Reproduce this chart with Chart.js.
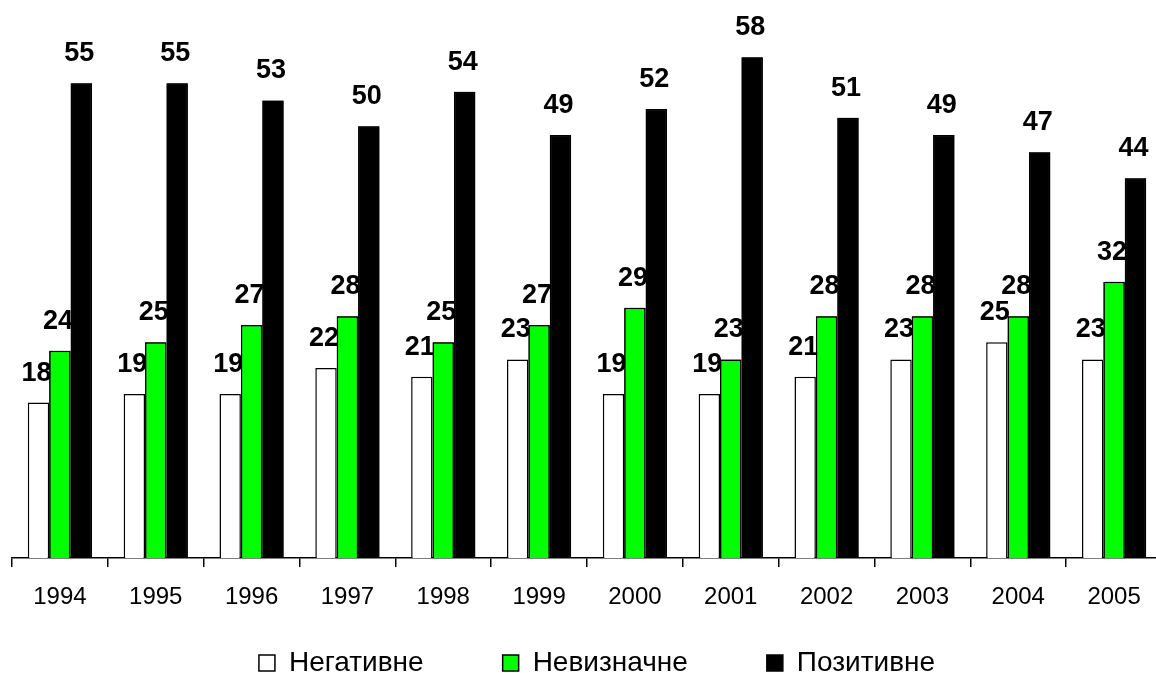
<!DOCTYPE html>
<html lang="uk">
<head>
<meta charset="UTF-8">
<title>1994-2005</title>
<script src="https://cdn.jsdelivr.net/npm/chart.js"></script>
<style>
    html, body {
        margin: 0;
        padding: 0;
        background: #fff;
        overflow: hidden;
    }
    #wrap {
        width: 1164px;
        height: 673px;
    }
</style>
</head>
<body>
<div id="wrap"><canvas id="chart" width="1164" height="673"></canvas></div>
<script>
const years = ['1994', '1995', '1996', '1997', '1998', '1999', '2000', '2001', '2002', '2003', '2004', '2005'];
const negative = [18, 19, 19, 22, 21, 23, 19, 19, 21, 23, 25, 23];
const uncertain = [24, 25, 27, 28, 25, 27, 29, 23, 28, 28, 28, 32];
const positive = [55, 55, 53, 50, 54, 49, 52, 58, 51, 49, 47, 44];

const FONT = "'Liberation Sans', Arial, sans-serif";

// labels above bars; each later series is redrawn so it covers the previous labels
const barLabels = {
    id: 'barLabels',
    afterDatasetsDraw(chart) {
        const ctx = chart.ctx;
        chart.data.datasets.forEach((ds, i) => {
            const meta = chart.getDatasetMeta(i);
            if (i > 0) {
                meta.data.forEach(el => el.draw(ctx));
            }
            ctx.save();
            ctx.font = 'bold 27px ' + FONT;
            ctx.fillStyle = '#000';
            ctx.textAlign = 'center';
            ctx.textBaseline = 'alphabetic';
            meta.data.forEach((el, j) => {
                ctx.fillText(ds.data[j], el.x - 2, el.y - 22);
            });
            ctx.restore();
        });
    }
};

// legend needs wide gaps between items but must sit close under the axis
const legendSpot = {
    id: 'legendSpot',
    afterLayout(chart) {
        chart.legend.top = 570;
        chart.legend.left += 20;
    }
};

new Chart(document.getElementById('chart'), {
    type: 'bar',
    data: {
        labels: years,
        datasets: [
            {
                label: 'Негативне',
                data: negative,
                backgroundColor: '#ffffff',
                borderColor: '#000000',
                borderWidth: 1.5
            },
            {
                label: 'Невизначне',
                data: uncertain,
                backgroundColor: '#00ff00',
                borderColor: '#000000',
                borderWidth: 1.5
            },
            {
                label: 'Позитивне',
                data: positive,
                backgroundColor: '#000000',
                borderColor: '#000000',
                borderWidth: 1.5
            }
        ]
    },
    options: {
        responsive: false,
        animation: false,
        datasets: {
            bar: {
                categoryPercentage: 0.67,
                barPercentage: 1.0,
                borderSkipped: 'bottom'
            }
        },
        layout: {
            padding: {top: 40, left: 12, right: 2, bottom: 0}
        },
        scales: {
            y: {
                display: false,
                min: 0,
                max: 60
            },
            x: {
                afterFit(scale) {
                    scale.height = 60;
                },
                border: {color: '#000', width: 1.5},
                grid: {
                    offset: true,
                    drawOnChartArea: false,
                    drawTicks: true,
                    tickLength: 9,
                    color: '#000',
                    lineWidth: 1.5
                },
                ticks: {
                    color: '#000',
                    padding: 16,
                    font: {family: FONT, size: 24}
                }
            }
        },
        plugins: {
            tooltip: {enabled: false},
            legend: {
                position: 'bottom',
                maxHeight: 55,
                labels: {
                    color: '#000',
                    boxWidth: 16,
                    boxHeight: 16,
                    padding: 79,
                    font: {family: FONT, size: 28}
                }
            }
        }
    },
    plugins: [barLabels, legendSpot]
});
</script>
</body>
</html>
